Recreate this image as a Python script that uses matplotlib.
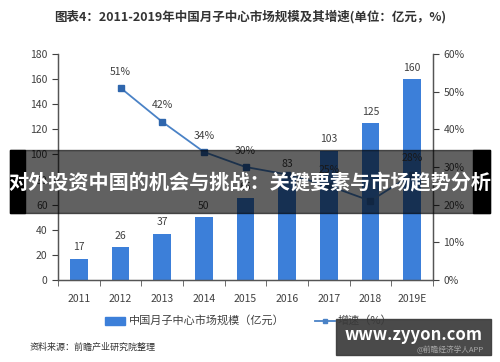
import numpy as np
import matplotlib
matplotlib.use("Agg")
from matplotlib import pyplot as plt
from matplotlib.patches import Rectangle

plt.rcParams['font.family'] = ['Noto Sans CJK SC', 'DejaVu Sans']

# data
years = ['2011', '2012', '2013', '2014', '2015', '2016', '2017', '2018', '2019E']
market_size = [17, 26, 37, 50, 65, 83, 103, 125, 160]
growth = [np.nan, 51, 42, 34, 30, 28, 25, 21, 28]
growth_labels = ['', '51%', '42%', '34%', '30%', '', '25%', '', '28%']

bar_color = '#3c7fd9'
line_color = '#4a82c6'
marker_color = '#2f66ad'
text_color = '#404040'

fig = plt.figure(figsize=(5, 3.62), dpi=100)
ax = fig.add_axes([0.116, 0.2265, 0.75, 0.6245])
ax2 = ax.twinx()

x = np.arange(len(years))
bars = ax.bar(x, market_size, width=0.42, color=bar_color, zorder=2)
for xi, v in zip(x, market_size):
    ax.text(xi, v + 5, str(v), ha='center', va='bottom', fontsize=7.5, color=text_color)

ax2.plot(x, growth, color=line_color, lw=1.3, marker='s', ms=4,
         mfc=marker_color, mec=marker_color, zorder=3)
for xi, v, lab in zip(x, growth, growth_labels):
    if lab:
        ax2.text(xi, v + 3, lab, ha='center', va='bottom', fontsize=7.5, color=text_color)

ax.set_xlim(-0.5, len(years) - 0.5)
ax.set_ylim(0, 180)
ax.set_yticks(np.arange(0, 181, 20))
ax2.set_ylim(0, 60)
ax2.set_yticks(np.arange(0, 61, 10))
ax2.set_yticklabels([f'{t}%' for t in range(0, 61, 10)])

ax.set_xticks(x)
ax.set_xticklabels(years)
ax.set_xticks(np.arange(-0.5, len(years), 1), minor=True)
ax.tick_params(axis='x', which='major', length=0, pad=10, labelsize=7.5, colors=text_color)
ax.tick_params(axis='x', which='minor', length=4, direction='out', color='#555555')
ax.tick_params(axis='y', length=4, labelsize=7.5, colors=text_color)
ax2.tick_params(axis='y', length=4, labelsize=7.5, colors=text_color)
for a in (ax, ax2):
    a.spines['top'].set_visible(False)
    for s in ('left', 'right', 'bottom'):
        a.spines[s].set_color('#555555')
        a.spines[s].set_linewidth(0.9)

fig.text(0.5, 0.955, '图表4：2011-2019年中国月子中心市场规模及其增速(单位：亿元，%)',
         ha='center', va='center', fontsize=9, fontweight='bold', color='#333333')

# legend
fig.patches.append(Rectangle((0.21, 0.103), 0.04, 0.022, transform=fig.transFigure,
                             color=bar_color, figure=fig))
fig.text(0.258, 0.114, '中国月子中心市场规模（亿元）', ha='left', va='center',
         fontsize=8, color=text_color)
fig.lines.append(plt.Line2D([0.63, 0.67], [0.114, 0.114], transform=fig.transFigure,
                            color=line_color, lw=1.3, marker='s', ms=3,
                            markevery=[0], figure=fig))
fig.lines[-1].set_data([0.63, 0.65, 0.67], [0.114, 0.114, 0.114])
fig.lines[-1].set_markevery([1])
fig.text(0.675, 0.114, '增速（%）', ha='left', va='center', fontsize=8, color=text_color)

fig.text(0.06, 0.042, '资料来源：前瞻产业研究院整理', ha='left', va='center',
         fontsize=6.5, color='#333333')

# overlay banner
fig.patches.append(Rectangle((0.02, 0.412), 0.96, 0.175, transform=fig.transFigure,
                             color='black', alpha=0.62, figure=fig, zorder=5))
fig.patches.append(Rectangle((0.02, 0.412), 0.03, 0.175, transform=fig.transFigure,
                             color='black', figure=fig, zorder=5))
fig.patches.append(Rectangle((0.946, 0.412), 0.034, 0.175, transform=fig.transFigure,
                             color='black', figure=fig, zorder=5))
fig.text(0.5, 0.497, '对外投资中国的机会与挑战：关键要素与市场趋势分析', ha='center',
         va='center', fontsize=14.5, fontweight='bold', color='white', zorder=6)

# watermark box
fig.patches.append(Rectangle((0.672, 0.02), 0.31, 0.1, transform=fig.transFigure,
                             color='#3a3a3a', alpha=0.92, figure=fig, zorder=5))
fig.text(0.827, 0.075, 'www.zyyon.com', ha='center', va='center', fontsize=12,
         fontweight='bold', color='white', zorder=6)
fig.text(0.9, 0.032, '@前瞻经济学人APP', ha='center', va='center', fontsize=5.5,
         color='#aaaaaa', zorder=6)

fig.savefig('out.png', dpi=100, facecolor='white')
